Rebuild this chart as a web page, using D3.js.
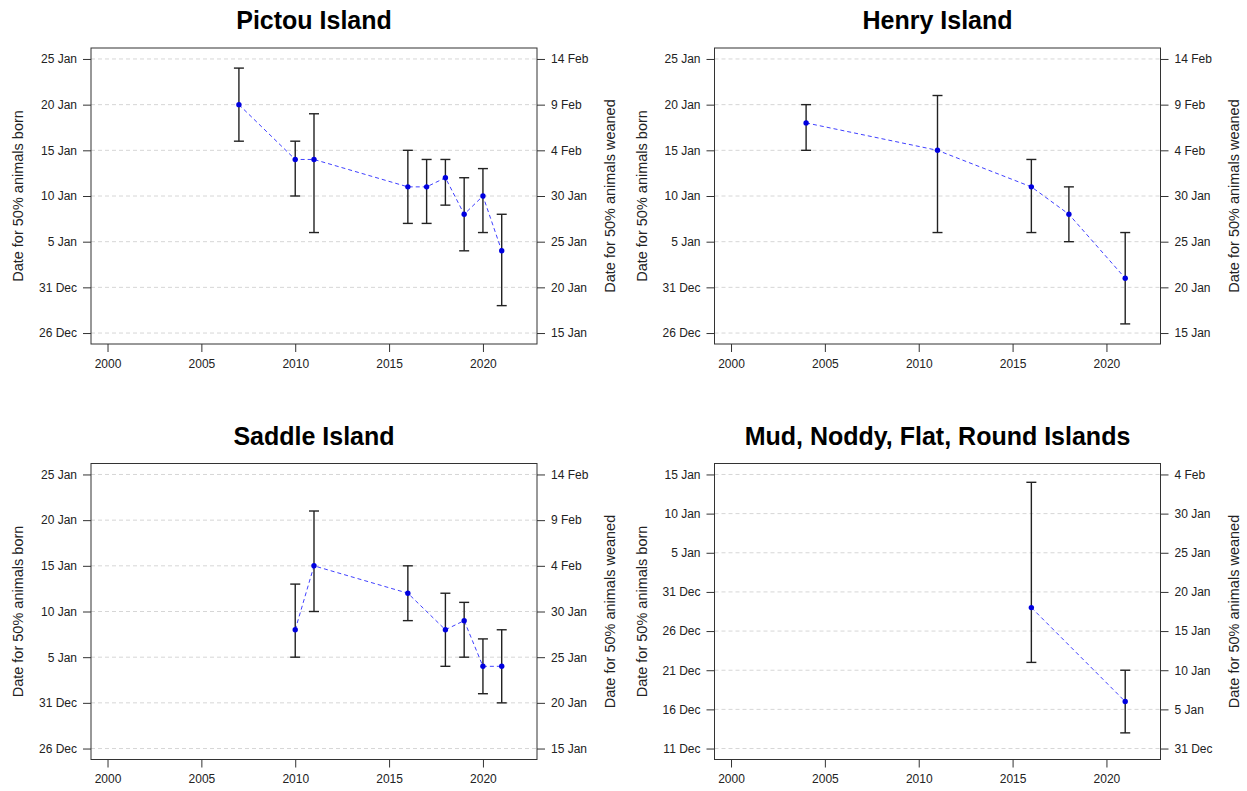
<!DOCTYPE html>
<html>
<head>
<meta charset="utf-8">
<script src="https://cdn.jsdelivr.net/npm/d3@7"></script>
<style>
  body { margin: 0; background: #fff; }
  text { font-family: "Liberation Sans", Arial, sans-serif; }
</style>
</head>
<body>
<svg id="chart" width="1247" height="791"></svg>
<script>
// days counted from 31 Dec (1 Jan = 1, 26 Dec = -5)
const pictouYears = [2007, 2010, 2011, 2016, 2017, 2018, 2019, 2020, 2021];
const pictouBorn  = [20, 14, 14, 11, 11, 12, 8, 10, 4];
const pictouLow   = [16, 10, 6, 7, 7, 9, 4, 6, -2];
const pictouHigh  = [24, 16, 19, 15, 14, 14, 12, 13, 8];

const henryYears = [2004, 2011, 2016, 2018, 2021];
const henryBorn  = [18, 15, 11, 8, 1];
const henryLow   = [15, 6, 6, 5, -4];
const henryHigh  = [20, 21, 14, 11, 6];

const saddleYears = [2010, 2011, 2016, 2018, 2019, 2020, 2021];
const saddleBorn  = [8, 15, 12, 8, 9, 4, 4];
const saddleLow   = [5, 10, 9, 4, 5, 1, 0];
const saddleHigh  = [13, 21, 15, 12, 11, 7, 8];

const mudYears = [2016, 2021];
const mudBorn  = [-2, -14];
const mudLow   = [-9, -18];
const mudHigh  = [14, -10];

const xTicks = [2000, 2005, 2010, 2015, 2020];
const xRange = [2000, 2022];

const yTicksA = [-5, 0, 5, 10, 15, 20, 25];
const bornLabelsA = ["26 Dec", "31 Dec", "5 Jan", "10 Jan", "15 Jan", "20 Jan", "25 Jan"];
const weanLabelsA = ["15 Jan", "20 Jan", "25 Jan", "30 Jan", "4 Feb", "9 Feb", "14 Feb"];

const yTicksB = [-20, -15, -10, -5, 0, 5, 10, 15];
const bornLabelsB = ["11 Dec", "16 Dec", "21 Dec", "26 Dec", "31 Dec", "5 Jan", "10 Jan", "15 Jan"];
const weanLabelsB = ["31 Dec", "5 Jan", "10 Jan", "15 Jan", "20 Jan", "25 Jan", "30 Jan", "4 Feb"];

const panels = [
  { title: "Pictou Island", years: pictouYears, born: pictouBorn, low: pictouLow, high: pictouHigh,
    ticks: yTicksA, left: bornLabelsA, right: weanLabelsA, col: 0, row: 0 },
  { title: "Henry Island", years: henryYears, born: henryBorn, low: henryLow, high: henryHigh,
    ticks: yTicksA, left: bornLabelsA, right: weanLabelsA, col: 1, row: 0 },
  { title: "Saddle Island", years: saddleYears, born: saddleBorn, low: saddleLow, high: saddleHigh,
    ticks: yTicksA, left: bornLabelsA, right: weanLabelsA, col: 0, row: 1 },
  { title: "Mud, Noddy, Flat, Round Islands", years: mudYears, born: mudBorn, low: mudLow, high: mudHigh,
    ticks: yTicksB, left: bornLabelsB, right: weanLabelsB, col: 1, row: 1 }
];

const svg = d3.select("#chart");
const boxW = 446, boxH = 296;
const colX = [91, 714.5], rowY = [48, 463.5];

// R style 4% padding on each side
function pad(ext) {
  const r = ext[1] - ext[0];
  return [ext[0] - r * 0.04, ext[1] + r * 0.04];
}

panels.forEach(p => {
  const x0 = colX[p.col], y0 = rowY[p.row];
  const g = svg.append("g").attr("transform", `translate(${x0},${y0})`);

  const x = d3.scaleLinear().domain(pad(xRange)).range([0, boxW]);
  const y = d3.scaleLinear().domain(pad(d3.extent(p.ticks))).range([boxH, 0]);

  // grid
  g.selectAll(".grid").data(p.ticks).enter().append("line")
    .attr("x1", 0).attr("x2", boxW)
    .attr("y1", d => y(d)).attr("y2", d => y(d))
    .attr("stroke", "#d6d6d6").attr("stroke-dasharray", "4,3");

  // axes
  const left = d3.axisLeft(y).tickValues(p.ticks).tickSize(8).tickPadding(6)
    .tickFormat((d, i) => p.left[i]);
  const right = d3.axisRight(y).tickValues(p.ticks).tickSize(8).tickPadding(6)
    .tickFormat((d, i) => p.right[i]);
  const bottom = d3.axisBottom(x).tickValues(xTicks).tickSize(8).tickPadding(7)
    .tickFormat(d3.format("d"));

  [[left, "translate(0,0)"], [right, `translate(${boxW},0)`], [bottom, `translate(0,${boxH})`]]
    .forEach(([ax, tr]) => {
      const a = g.append("g").attr("transform", tr).call(ax);
      a.select(".domain").remove();
      a.selectAll("line").attr("stroke", "#333");
      a.selectAll("text").attr("font-size", "12px").attr("fill", "#222")
        .style("font-family", '"Liberation Sans", Arial, sans-serif');
    });

  // box
  g.append("rect").attr("width", boxW).attr("height", boxH)
    .attr("fill", "none").attr("stroke", "#333").attr("stroke-width", 1);

  const idx = d3.range(p.years.length);

  // error bars
  const bars = g.selectAll(".bar").data(idx).enter().append("g");
  bars.append("line")
    .attr("x1", i => x(p.years[i])).attr("x2", i => x(p.years[i]))
    .attr("y1", i => y(p.low[i])).attr("y2", i => y(p.high[i]));
  bars.append("line")
    .attr("x1", i => x(p.years[i]) - 5).attr("x2", i => x(p.years[i]) + 5)
    .attr("y1", i => y(p.low[i])).attr("y2", i => y(p.low[i]));
  bars.append("line")
    .attr("x1", i => x(p.years[i]) - 5).attr("x2", i => x(p.years[i]) + 5)
    .attr("y1", i => y(p.high[i])).attr("y2", i => y(p.high[i]));
  bars.selectAll("line").attr("stroke", "#222").attr("stroke-width", 1.4);

  // dashed line
  const line = d3.line().x(i => x(p.years[i])).y(i => y(p.born[i]));
  g.append("path").datum(idx).attr("d", line)
    .attr("fill", "none").attr("stroke", "#0000ff").attr("stroke-opacity", 0.75)
    .attr("stroke-width", 1).attr("stroke-dasharray", "4,3");

  g.selectAll(".pt").data(idx).enter().append("circle")
    .attr("cx", i => x(p.years[i])).attr("cy", i => y(p.born[i]))
    .attr("r", 2.7).attr("fill", "#0000e0");

  // title
  g.append("text").attr("x", boxW / 2).attr("y", -19)
    .attr("text-anchor", "middle").attr("font-size", "25px").attr("font-weight", "bold")
    .attr("fill", "#000").text(p.title);

  // axis titles
  g.append("text").attr("transform", `translate(${-73},${boxH / 2}) rotate(-90)`)
    .attr("dy", "0.35em").attr("text-anchor", "middle").attr("font-size", "14.5px").attr("fill", "#222")
    .text("Date for 50% animals born");
  g.append("text").attr("transform", `translate(${boxW + 73},${boxH / 2}) rotate(-90)`)
    .attr("dy", "0.35em").attr("text-anchor", "middle").attr("font-size", "14.5px").attr("fill", "#222")
    .text("Date for 50% animals weaned");
});
</script>
</body>
</html>
